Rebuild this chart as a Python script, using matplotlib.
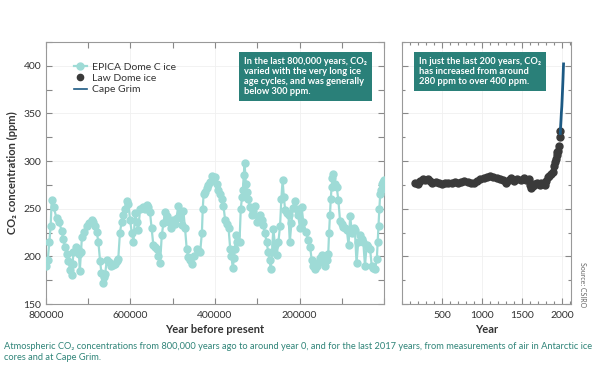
import numpy as np
import matplotlib.pyplot as plt
from matplotlib.ticker import MultipleLocator

plt.rcParams['font.family'] = ['Lato', 'DejaVu Sans']

# EPICA Dome C ice core (years before present, ppm)
epica_age = [
    799000, 796000, 792000, 789000, 786500, 782000, 775000, 769000, 763000, 759000,
    755000, 751000, 747000, 743000, 739000, 737000, 735000, 730000, 725000, 722000,
    720000, 717000, 715000, 710000, 704000, 698000, 692000, 688000, 684000, 680000,
    676000, 672000, 669000, 666000, 663000, 660000, 656000, 650000, 645000, 641000,
    637000, 633000, 629000, 625000, 621000, 617000, 613000, 609000, 605000, 601000,
    597000, 593000, 589000, 585000, 582000, 577000, 570000, 566000, 562000, 558000,
    554000, 550000, 546000, 542000, 538000, 534000, 530000, 526000, 522000, 518000,
    514000, 510000, 503000, 499000, 495000, 491000, 487000, 483000, 479000, 475000,
    471000, 467000, 463000, 459000, 455000, 449000, 443000, 439000, 435000, 431000,
    429000, 427000, 424000, 420000, 416000, 412000, 408000, 404000, 400000, 396000,
    392000, 388000, 384000, 380000, 376000, 372000, 368000, 364000, 361000, 358000,
    355000, 353000, 350000, 347000, 342000, 339000, 336000, 334000, 332000, 330000,
    327000, 324000, 321000, 317000, 313000, 309000, 305000, 301000, 297000, 293000,
    289000, 286000, 282000, 278000, 274000, 271000, 268000, 265000, 262000, 258000,
    254000, 250000, 246000, 243000, 240000, 237000, 234000, 230000, 226000, 223000,
    219000, 216000, 211000, 207000, 203000, 199000, 195000, 191000, 185000, 179000,
    175000, 171000, 167000, 163000, 159000, 155000, 151000, 147000, 143000, 140000,
    136000, 132000, 130000, 128000, 126000, 124000, 122000, 120000, 116000, 112000,
    108000, 104000, 100000, 96000, 92000, 88000, 84000, 80000, 76000, 72000,
    69000, 65000, 61000, 57000, 53000, 49000, 45000, 41000, 37000, 33000,
    29000, 25000, 21000, 17000, 15000, 13000, 11000, 9000, 7000, 5000, 3000, 1000,
]
epica_co2 = [
    190, 196, 215, 232, 259, 252, 240, 236, 227, 218,
    210, 202, 195, 186, 180, 192, 205, 210, 208, 203,
    185, 205, 220, 226, 232, 235, 238, 236, 232, 226,
    215, 195, 183, 172, 178, 182, 196, 194, 190, 191,
    192, 195, 197, 225, 236, 243, 250, 258, 255, 238,
    225, 215, 246, 236, 228, 250, 252, 250, 254, 252,
    247, 230, 212, 210, 208, 200, 193, 222, 235, 247,
    242, 236, 230, 238, 234, 240, 253, 243, 233, 248,
    230, 208, 199, 196, 192, 200, 208, 206, 205, 225,
    250, 265, 268, 272, 275, 278, 284, 282, 283, 276,
    270, 265, 260, 253, 238, 234, 230, 208, 200, 188,
    198, 208, 222, 215, 215, 250, 262, 270, 285, 298,
    276, 268, 260, 252, 243, 248, 253, 236, 240, 243,
    238, 233, 225, 215, 205, 196, 187, 205, 229, 212,
    201, 215, 232, 260, 280, 262, 249, 246, 243, 215,
    235, 251, 258, 250, 243, 230, 252, 236, 226, 217,
    210, 196, 190, 187, 190, 194, 198, 201, 195, 190,
    196, 203, 225, 243, 260, 273, 282, 286, 276, 273,
    259, 237, 234, 231, 230, 228, 212, 242, 225, 230,
    228, 193, 215, 222, 218, 215, 190, 212, 210, 208,
    190, 188, 187, 197, 215, 232, 250, 265, 270, 276, 278, 280,
]

# Law Dome ice core (year AD, ppm)
law_year = [
    165, 200, 230, 260, 290, 320, 350, 380, 420, 460, 500, 540, 580, 620, 660,
    700, 740, 780, 820, 860, 900, 940, 980, 1020, 1060, 1100, 1140, 1180, 1220,
    1260, 1300, 1330, 1360, 1400, 1440, 1480, 1520, 1550, 1580, 1600, 1615, 1630,
    1650, 1680, 1700, 1720, 1740, 1760, 1780, 1800, 1820, 1840, 1860, 1880, 1900,
    1910, 1920, 1930, 1940, 1950, 1960, 1970, 1978,
]
law_co2 = [
    277, 276, 279, 281, 280, 281, 279, 277, 278, 277, 276, 277, 277, 277, 278,
    277, 278, 279, 278, 277, 277, 279, 281, 282, 283, 284, 283, 282, 281,
    280, 277, 280, 282, 279, 281, 280, 282, 280, 281, 275, 272, 274, 276,
    277, 276, 275, 277, 276, 275, 279, 283, 284, 286, 289, 295,
    299, 302, 306, 310, 311, 316, 325, 332,
]

# Cape Grim air (year AD, ppm)
grim_year = [1976, 1980, 1985, 1990, 1995, 2000, 2005, 2010, 2015, 2017]
grim_co2 = [329, 336, 343, 351, 357, 366, 376, 386, 398, 402]

TEAL_LIGHT = '#9edbd6'
BOX = '#2a8079'
TXT = '#333333'

fig = plt.figure(figsize=(6, 3.86), dpi=100)
ax1 = fig.add_axes([46/600, 1-304/386, 338/600, 262/386])
ax2 = fig.add_axes([402/600, 1-304/386, 169/600, 262/386])

ax1.plot(epica_age, epica_co2, '-o', color=TEAL_LIGHT, lw=1.6, ms=5,
         mec=TEAL_LIGHT, label='EPICA Dome C ice', zorder=3)
ax1.plot([], [], 'o', color='#3a3a3a', ms=4.5, label='Law Dome ice')
ax1.plot([], [], '-', color='#1d5a84', lw=1.2, label='Cape Grim')

ax2.plot(law_year, law_co2, 'o', color='#3a3a3a', ms=5, zorder=3)
ax2.plot(grim_year, grim_co2, '-', color='#1d5a84', lw=2, zorder=4)

for ax in (ax1, ax2):
    ax.set_ylim(150, 425)
    ax.yaxis.set_major_locator(MultipleLocator(50))
    ax.yaxis.set_minor_locator(MultipleLocator(25))
    ax.tick_params(which='both', direction='in', top=True, right=True,
                   colors='#888888', labelcolor=TXT, labelsize=7.5, length=4, width=0.8)
    ax.tick_params(axis='x', pad=5)
    for s in ax.spines.values():
        s.set_color('#999999')
        s.set_linewidth(0.8)
    ax.grid(True, which='major', color='#f0f0f0', lw=0.6)
    ax.set_axisbelow(True)

ax1.set_xlim(800000, 0)
ax1.xaxis.set_minor_locator(MultipleLocator(100000))
ax1.set_xticks([800000, 600000, 400000, 200000])
ax1.set_xticklabels(['800000', '600000', '400000', '200000'])
ax1.set_xlabel('Year before present', fontsize=8, fontweight='bold', color=TXT, labelpad=3)
ax1.set_ylabel('CO₂ concentration (ppm)', fontsize=8, fontweight='bold', color=TXT, labelpad=4)

ax2.set_xlim(0, 2110)
ax2.xaxis.set_minor_locator(MultipleLocator(100))
ax2.tick_params(which='minor', length=2.5)
ax2.tick_params(axis='y', labelleft=False)
ax2.set_xticks([500, 1000, 1500, 2000])
ax2.set_xlabel('Year', fontsize=8, fontweight='bold', color=TXT, labelpad=3)

leg = ax1.legend(loc='upper left', bbox_to_anchor=(0.06, 0.95), frameon=False,
                 fontsize=7.5, handlelength=1.3, handletextpad=0.5,
                 labelspacing=0.2, borderpad=0.2)
for t in leg.get_texts():
    t.set_color(TXT)

box_kw = dict(boxstyle='square,pad=0.5', fc=BOX, ec='none')
fig.text(244/600, 1-57/386,
         'In the last 800,000 years, CO₂\nvaried with the very long ice\nage cycles, and was generally\nbelow 300 ppm.',
         fontsize=6.7, color='white', fontweight='bold', va='top', ha='left',
         linespacing=1.15, bbox=box_kw)
fig.text(419/600, 1-57/386,
         'In just the last 200 years, CO₂\nhas increased from around\n280 ppm to over 400 ppm.',
         fontsize=6.7, color='white', fontweight='bold', va='top', ha='left',
         linespacing=1.15, bbox=box_kw)

fig.text(583/600, 1-285/386, 'Source: CSIRO', fontsize=5, color='#666666',
         rotation=-90, ha='center', va='center')

fig.text(4/600, 1-352/386,
         'Atmospheric CO₂ concentrations from 800,000 years ago to around year 0, and for the last 2017 years, from measurements of air in Antarctic ice\ncores and at Cape Grim.',
         fontsize=6.7, color='#2f8478', va='center', ha='left', linespacing=1.4)

fig.savefig('out.png', dpi=100)
